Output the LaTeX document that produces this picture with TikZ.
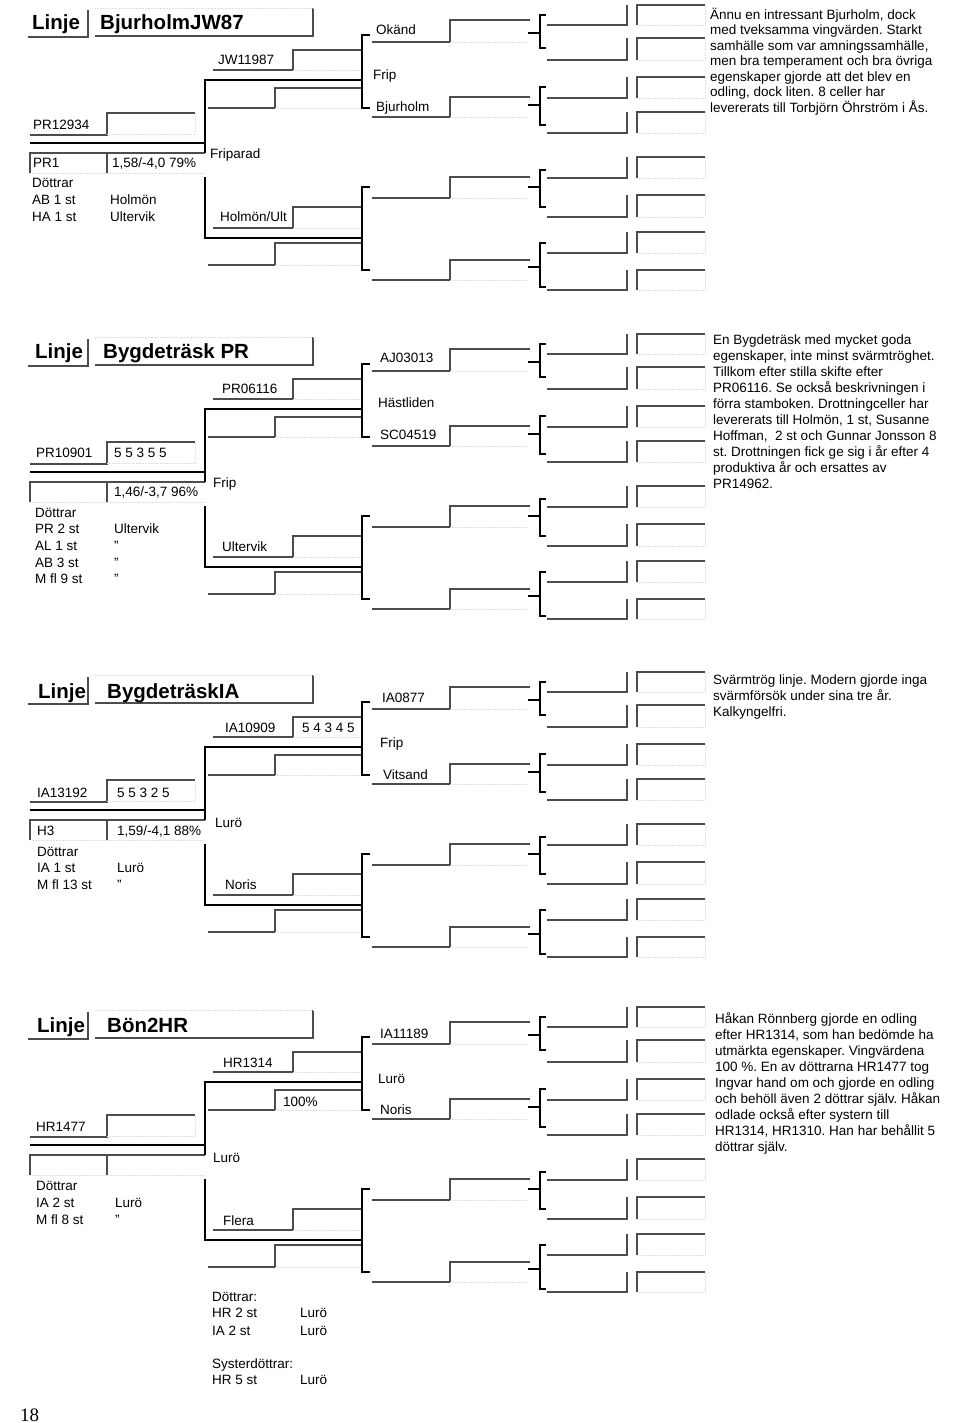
\documentclass[tikz,border=0pt]{standalone}
\usepackage{fontspec}
\setmainfont{Liberation Sans}
\newfontfamily\pagefont{Liberation Serif}
\usetikzlibrary{positioning}

\begin{document}
\begin{tikzpicture}[x=1pt, y=-1pt,
    bold/.style={line width=1.8pt},
    field/.style={line width=1.3pt, black!70},
    faint/.style={densely dotted, line width=0.5pt, black!12},
    lbl/.style={inner sep=0pt, anchor=base west, font=\fontsize{13.5}{16}\selectfont},
    head/.style={inner sep=0pt, anchor=base west, font=\fontsize{20.5}{24}\selectfont\bfseries},
    note/.style={inner sep=0pt, anchor=north west, align=left, font=\fontsize{13.5}{16}\selectfont\frenchspacing}
]
\useasboundingbox (0,0) rectangle (960,1423);

% the printed form, the same for all four lines
\foreach \dy in {0,329,667,1002} {
\begin{scope}[yshift=-\dy pt]
\draw[field] (28,37) -- (88,37) -- (88,10);
\draw[field] (95,36) -- (313,36) -- (313,8);
\draw[faint] (95,8) -- (313,8);
\draw[field] (30,135) -- (107,135) -- (107,113) -- (195,113);
\draw[faint] (107,134) -- (195,134) -- (195,113);
\draw[bold] (30,143) -- (205,143);
\draw[field] (30,173) -- (30,153) -- (205,153);
\draw[field] (107,173) -- (107,153);
\draw[faint] (30,173) -- (205,173);
\draw[bold] (362,80) -- (205,80) -- (205,153);
\draw[bold] (205,177) -- (205,238) -- (362,238);
\foreach \lo/\hi in {70/50,228/207} {
  \draw[field] (213,\lo) -- (293,\lo) -- (293,\hi) -- (362,\hi);
  \draw[faint] (293,\lo) -- (360,\lo);
}
\foreach \lo/\hi in {108/88,265/243} {
  \draw[field] (208,\lo) -- (275,\lo) -- (275,\hi) -- (362,\hi);
  \draw[faint] (275,\lo) -- (360,\lo);
}
\foreach \ya/\yb in {35/108,187/270}
  \draw[bold] (370,\ya) -- (362,\ya) -- (362,\yb) -- (370,\yb);
\foreach \lo/\hi in {42/20,117/97,198/177,280/260} {
  \draw[field] (372,\lo) -- (450,\lo) -- (450,\hi) -- (530,\hi);
  \draw[faint] (450,\lo) -- (528,\lo);
}
\foreach \ya/\ym/\yb in {15/33/48,87/105/125,170/187/207,243/267/287} {
  \draw[bold] (546,\ya) -- (540,\ya) -- (540,\yb) -- (546,\yb);
  \draw[bold] (528,\ym) -- (540,\ym);
}
\foreach \lo/\hi in {25/5,60/38,98/77,133/112,178/157,217/195,253/232,290/270} {
  \draw[field] (547,\lo) -- (627,\lo) -- (627,\hi);
  \draw[field] (637,\lo) -- (637,\hi) -- (705,\hi);
  \draw[faint] (637,\lo) -- (705,\lo) -- (705,\hi);
}
\end{scope}
}

% BjurholmJW87
\node[head] (linje1) at (32,30) {Linje};
\node[head] (name1) at (100,30) {BjurholmJW87};
\node[lbl] (queen1) at (33,130) {PR12934};
\node[lbl] (code1) at (33,168) {PR1};
\node[lbl] (wing1) at (112,168) {1,58/-4,0 79\%};
\node[lbl] (dot1) at (32,188) {Döttrar};
\node[lbl] (dota1) at (32,205) {AB 1 st};
\node[lbl] (dotb1) at (32,222) {HA 1 st};
\node[lbl] (plca1) at (110,205) {Holmön};
\node[lbl] (plcb1) at (110,222) {Ultervik};
\node[lbl] (place1) at (210,159) {Friparad};
\node[lbl] (mother1) at (218,65) {JW11987};
\node[lbl] (gma1) at (376,35) {Okänd};
\node[lbl] (gmp1) at (373,80) {Frip};
\node[lbl] (gmb1) at (376,112) {Bjurholm};
\node[lbl] (father1) at (220,222) {Holmön/Ult};
\node[note, font=\fontsize{13.5}{15.5}\selectfont\frenchspacing] (text1) at (710,8)
  {Ännu en intressant Bjurholm, dock\\med tveksamma vingvärden. Starkt\\samhälle som var amningssamhälle,\\men bra temperament och bra övriga\\egenskaper gjorde att det blev en\\odling, dock liten. 8 celler har\\levererats till Torbjörn Öhrström i Ås.};

% Bygdeträsk PR
\begin{scope}[yshift=-329pt]
\node[head] (linje2) at (35,29) {Linje};
\node[head] (name2) at (103,29) {Bygdeträsk PR};
\node[lbl] (queen2) at (36,128) {PR10901};
\node[lbl] (score2) at (114,128) {5 5 3 5 5};
\node[lbl] (wing2) at (114,167) {1,46/-3,7 96\%};
\node[lbl] (dot2) at (35,188) {Döttrar};
\node[lbl] (dota2) at (35,204) {PR 2 st};
\node[lbl] (dotb2) at (35,221) {AL 1 st};
\node[lbl] (dotc2) at (35,238) {AB 3 st};
\node[lbl] (dotd2) at (35,254) {M fl 9 st};
\node[lbl] (plca2) at (114,204) {Ultervik};
\node[lbl] (plcb2) at (114,221) {"};
\node[lbl] (plcc2) at (114,238) {"};
\node[lbl] (plcd2) at (114,254) {"};
\node[lbl] (place2) at (213,158) {Frip};
\node[lbl] (mother2) at (222,64) {PR06116};
\node[lbl] (gma2) at (380,33) {AJ03013};
\node[lbl] (gmp2) at (378,78) {Hästliden};
\node[lbl] (gmb2) at (380,110) {SC04519};
\node[lbl] (father2) at (222,222) {Ultervik};
\node[note] (text2) at (713,6)
  {En Bygdeträsk med mycket goda\\egenskaper, inte minst svärmtröghet.\\Tillkom efter stilla skifte efter\\PR06116. Se också beskrivningen i\\förra stamboken. Drottningceller har\\levererats till Holmön, 1 st, Susanne\\Hoffman,~ 2 st och Gunnar Jonsson 8\\st. Drottningen fick ge sig i år efter 4\\produktiva år och ersattes av\\PR14962.};
\end{scope}

% BygdeträskIA
\begin{scope}[yshift=-667pt]
\node[head] (linje3) at (38,31) {Linje};
\node[head] (name3) at (107,31) {BygdeträskIA};
\node[lbl] (queen3) at (37,130) {IA13192};
\node[lbl] (score3) at (117,130) {5 5 3 2 5};
\node[lbl] (code3) at (37,168) {H3};
\node[lbl] (wing3) at (117,168) {1,59/-4,1 88\%};
\node[lbl] (dot3) at (37,189) {Döttrar};
\node[lbl] (dota3) at (37,205) {IA 1 st};
\node[lbl] (dotb3) at (37,222) {M fl 13 st};
\node[lbl] (plca3) at (117,205) {Lurö};
\node[lbl] (plcb3) at (117,222) {"};
\node[lbl] (place3) at (215,160) {Lurö};
\node[lbl] (mother3) at (225,65) {IA10909};
\node[lbl] (mscore3) at (302,65) {5 4 3 4 5};
\node[lbl] (gma3) at (382,35) {IA0877};
\node[lbl] (gmp3) at (380,80) {Frip};
\node[lbl] (gmb3) at (383,112) {Vitsand};
\node[lbl] (father3) at (225,222) {Noris};
\node[note] (text3) at (713,8)
  {Svärmtrög linje. Modern gjorde inga\\svärmförsök under sina tre år.\\Kalkyngelfri.};
\end{scope}

% Bön2HR
\begin{scope}[yshift=-1002pt]
\node[head] (linje4) at (37,30) {Linje};
\node[head] (name4) at (107,30) {Bön2HR};
\node[lbl] (queen4) at (36,129) {HR1477};
\node[lbl] (dot4) at (36,188) {Döttrar};
\node[lbl] (dota4) at (36,205) {IA 2 st};
\node[lbl] (dotb4) at (36,222) {M fl 8 st};
\node[lbl] (plca4) at (115,205) {Lurö};
\node[lbl] (plcb4) at (115,222) {"};
\node[lbl] (place4) at (213,160) {Lurö};
\node[lbl] (mother4) at (223,65) {HR1314};
\node[lbl] (mwing4) at (283,104) {100\%};
\node[lbl] (gma4) at (380,36) {IA11189};
\node[lbl] (gmp4) at (378,81) {Lurö};
\node[lbl] (gmb4) at (380,112) {Noris};
\node[lbl] (father4) at (223,223) {Flera};
\node[note] (text4) at (715,10)
  {Håkan Rönnberg gjorde en odling\\efter HR1314, som han bedömde ha\\utmärkta egenskaper. Vingvärdena\\100 \%. En av döttrarna HR1477 tog\\Ingvar hand om och gjorde en odling\\och behöll även 2 döttrar själv. Håkan\\odlade också efter systern till\\HR1314, HR1310. Han har behållit 5\\döttrar själv.};
\end{scope}

\node[lbl] (extra) at (212,1301) {Döttrar:};
\node[lbl] (exa) at (212,1317) {HR 2 st};
\node[lbl] (exb) at (212,1335) {IA 2 st};
\node[lbl] (exap) at (300,1317) {Lurö};
\node[lbl] (exbp) at (300,1335) {Lurö};
\node[lbl] (sister) at (212,1368) {Systerdöttrar:};
\node[lbl] (sisa) at (212,1384) {HR 5 st};
\node[lbl] (sisap) at (300,1384) {Lurö};
\node[inner sep=0pt, anchor=base west, font=\pagefont\fontsize{19}{22}\selectfont] (page) at (20,1421) {18};
\end{tikzpicture}
\end{document}
